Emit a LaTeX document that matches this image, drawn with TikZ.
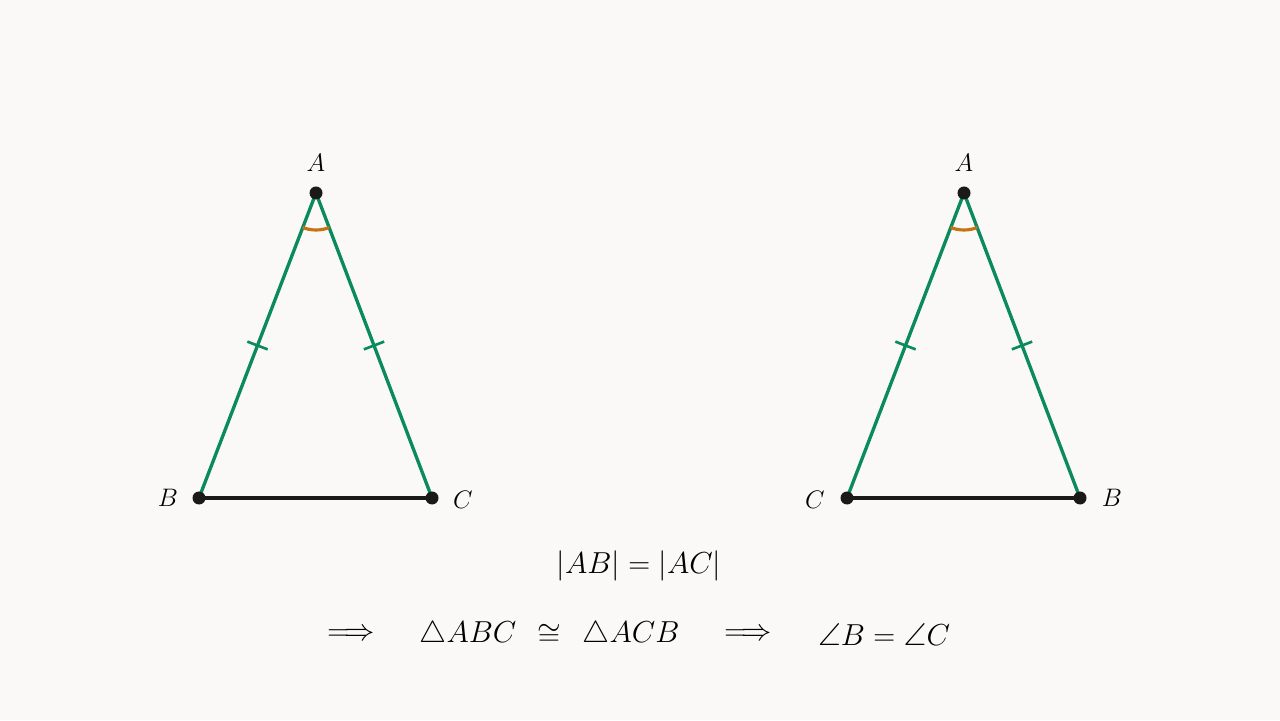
\documentclass[tikz,border=0pt]{standalone}
\usepackage{amsmath,amssymb}
\usetikzlibrary{angles,calc}
\definecolor{bg}{HTML}{FAF9F7}
\definecolor{gr}{HTML}{0B8A5F}
\definecolor{org}{HTML}{C27512}
\definecolor{dk}{HTML}{1A1A1A}
\begin{document}
\begin{tikzpicture}[x=0.02cm,y=0.02cm,
  side/.style={draw=gr,line width=1.9pt},
  base/.style={draw=dk,line width=2pt},
  tick/.style={draw=gr,line width=1.5pt},
  dot/.style={circle,fill=dk,inner sep=0pt,minimum size=7.4pt},
  lab/.style={font=\fontsize{14.5}{16}\selectfont,inner sep=0pt},
  eq/.style={font=\fontsize{17}{20}\selectfont,inner sep=0pt},
  eqb/.style={font=\fontsize{18}{21}\selectfont,inner sep=0pt},
  arcm/.style={draw=org,line width=1.8pt,angle radius=0.74cm}]
\fill[bg] (0,0) rectangle (1280,720);
\useasboundingbox (0,0) rectangle (1280,720);
% left triangle
\coordinate (A1) at (316,527);
\coordinate (B1) at (199,222);
\coordinate (C1) at (432,222);
\draw[base] (B1) -- (C1);
\draw[side] (B1) -- (A1) -- (C1);
\pic[arcm] {angle=B1--A1--C1};
\coordinate (m1) at ($(A1)!0.5!(B1)$);
\coordinate (m2) at ($(A1)!0.5!(C1)$);
\draw[tick] ($(m1)!6.2pt!90:(A1)$) -- ($(m1)!6.2pt!-90:(A1)$);
\draw[tick] ($(m2)!6.2pt!90:(A1)$) -- ($(m2)!6.2pt!-90:(A1)$);
\node[dot] (nA1) at (A1) {};
\node[dot] (nB1) at (B1) {};
\node[dot] (nC1) at (C1) {};
\node[lab] (lA1) at (316,557) {$A$};
\node[lab] (lB1) at (168,222) {$B$};
\node[lab] (lC1) at (463,220) {$C$};
% right triangle
\coordinate (A2) at (964,527);
\coordinate (C2) at (847,222);
\coordinate (B2) at (1080,222);
\draw[base] (C2) -- (B2);
\draw[side] (C2) -- (A2) -- (B2);
\pic[arcm] {angle=C2--A2--B2};
\coordinate (m3) at ($(A2)!0.5!(C2)$);
\coordinate (m4) at ($(A2)!0.5!(B2)$);
\draw[tick] ($(m3)!6.2pt!90:(A2)$) -- ($(m3)!6.2pt!-90:(A2)$);
\draw[tick] ($(m4)!6.2pt!90:(A2)$) -- ($(m4)!6.2pt!-90:(A2)$);
\node[dot] (nA2) at (A2) {};
\node[dot] (nC2) at (C2) {};
\node[dot] (nB2) at (B2) {};
\node[lab] (lA2) at (964,557) {$A$};
\node[lab] (lC2) at (815,220) {$C$};
\node[lab] (lB2) at (1112,222) {$B$};
% equations
\node[eq] (e1) at (639,154) {$|AB| = |AC|$};
\node[eqb] (i1) at (351,85) {$\Longrightarrow$};
\node[eqb] (t1) at (468,85) {$\triangle ABC$};
\node[eqb] (cg) at (549,85) {$\cong$};
\node[eqb] (t2) at (631,85) {$\triangle ACB$};
\node[eqb] (i2) at (748,85) {$\Longrightarrow$};
\node[eqb] (ag) at (884,85) {$\angle B = \angle C$};
\end{tikzpicture}
\end{document}
